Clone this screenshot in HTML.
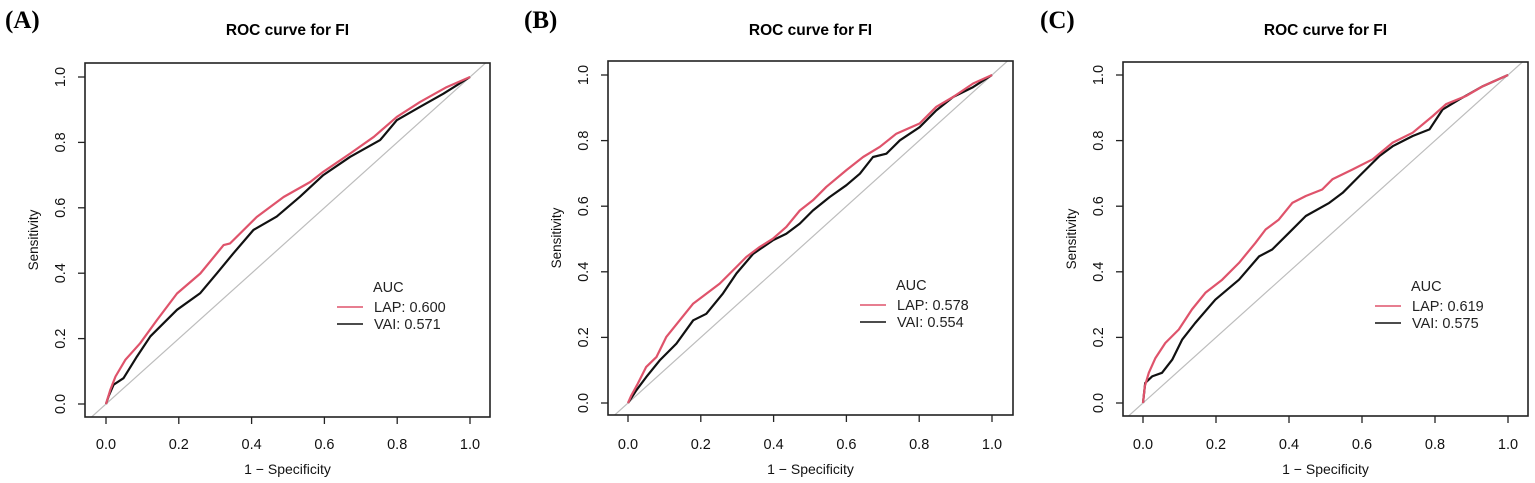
<!DOCTYPE html>
<html><head><meta charset="utf-8"><style>
body{margin:0;background:#fff;}
svg{display:block;font-family:"Liberation Sans",Arial,sans-serif;}
</style></head><body>
<svg id="chart" width="1535" height="483" viewBox="0 0 1535 483" xmlns="http://www.w3.org/2000/svg"></svg>
<script>
const ticks = [0, 0.2, 0.4, 0.6, 0.8, 1.0];
const tickLabels = ["0.0", "0.2", "0.4", "0.6", "0.8", "1.0"];
const panelLabels = ["(A)", "(B)", "(C)"];
const aucLap = ["0.600", "0.578", "0.619"];
const aucVai = ["0.571", "0.554", "0.575"];
const lapA_fpr = [0,0.012,0.026,0.053,0.094,0.140,0.195,0.259,0.323,0.341,0.414,0.488,0.561,0.597,0.671,0.736,0.799,0.863,0.936,1];
const lapA_tpr = [0,0.044,0.084,0.135,0.186,0.257,0.338,0.399,0.486,0.491,0.572,0.633,0.679,0.710,0.766,0.817,0.878,0.924,0.969,1];
const vaiA_fpr = [0,0.007,0.021,0.048,0.085,0.122,0.195,0.259,0.305,0.350,0.405,0.469,0.533,0.597,0.671,0.753,0.799,0.863,0.927,1];
const vaiA_tpr = [0,0.023,0.059,0.079,0.145,0.207,0.288,0.339,0.400,0.461,0.532,0.573,0.634,0.700,0.756,0.807,0.868,0.909,0.949,1];
const lapB_fpr = [0,0.009,0.027,0.050,0.078,0.105,0.142,0.179,0.215,0.252,0.298,0.325,0.362,0.398,0.435,0.472,0.508,0.545,0.600,0.646,0.692,0.737,0.801,0.847,0.893,0.948,1];
const lapB_tpr = [0,0.023,0.059,0.110,0.140,0.201,0.252,0.303,0.333,0.364,0.415,0.445,0.476,0.501,0.537,0.587,0.618,0.659,0.710,0.750,0.781,0.821,0.852,0.903,0.933,0.974,1];
const vaiB_fpr = [0,0.023,0.050,0.087,0.133,0.179,0.215,0.261,0.298,0.344,0.398,0.435,0.472,0.508,0.554,0.600,0.637,0.673,0.710,0.747,0.801,0.847,0.893,0.948,1];
const vaiB_tpr = [0,0.039,0.079,0.130,0.181,0.252,0.272,0.334,0.395,0.455,0.496,0.516,0.547,0.587,0.628,0.664,0.699,0.750,0.760,0.801,0.841,0.892,0.933,0.963,1];
const lapC_fpr = [0,0.005,0.016,0.034,0.061,0.098,0.134,0.171,0.217,0.263,0.308,0.336,0.372,0.409,0.446,0.491,0.519,0.574,0.629,0.684,0.739,0.794,0.830,0.885,0.931,1];
const lapC_tpr = [0,0.051,0.092,0.137,0.183,0.224,0.285,0.336,0.376,0.427,0.488,0.529,0.559,0.610,0.631,0.651,0.682,0.712,0.743,0.794,0.824,0.875,0.911,0.936,0.966,1];
const vaiC_fpr = [0,0.006,0.025,0.052,0.080,0.107,0.143,0.198,0.263,0.318,0.354,0.400,0.446,0.510,0.547,0.593,0.648,0.684,0.739,0.785,0.821,0.867,0.931,1];
const vaiC_tpr = [0,0.061,0.081,0.092,0.132,0.193,0.244,0.315,0.376,0.447,0.468,0.519,0.570,0.610,0.641,0.692,0.753,0.783,0.814,0.834,0.895,0.926,0.966,1];

const panels = [
 {bx0:85,by0:63,bx1:490,by1:417,x0:106,x1:470,y0:404,y1:77,lab:5,lap:[lapA_fpr,lapA_tpr],vai:[vaiA_fpr,vaiA_tpr]},
 {bx0:608,by0:61,bx1:1013,by1:415,x0:628,x1:992,y0:403,y1:75,lab:524,lap:[lapB_fpr,lapB_tpr],vai:[vaiB_fpr,vaiB_tpr]},
 {bx0:1123,by0:62,bx1:1528,by1:416,x0:1143,x1:1508,y0:403,y1:75,lab:1040,lap:[lapC_fpr,lapC_tpr],vai:[vaiC_fpr,vaiC_tpr]}
];
const NS="http://www.w3.org/2000/svg";
const svg=document.getElementById('chart');
function mk(tag,attrs,parent,text){const e=document.createElementNS(NS,tag);for(const k in attrs)e.setAttribute(k,attrs[k]);if(text!==undefined)e.textContent=text;(parent||svg).appendChild(e);return e;}
panels.forEach((p,i)=>{
 const g=mk('g',{});
 
 
 const sx=v=>p.x0+v*(p.x1-p.x0);
 const sy=v=>p.y0-v*(p.y0-p.y1);
 const pl=mk('text',{x:p.lab,y:28,'font-family':'Liberation Serif, serif','font-weight':'bold','font-size':25,fill:'#000'},g,panelLabels[i]);
 
 
 const cx=(p.bx0+p.bx1)/2;
 const t=mk('text',{x:cx,y:35,'text-anchor':'middle','font-weight':'bold','font-size':15.5,fill:'#000'},g,'ROC curve for FI');
 
 
 const cp=mk('clipPath',{id:'clip'+i},g);
 mk('rect',{x:p.bx0,y:p.by0,width:p.bx1-p.bx0,height:p.by1-p.by0},cp);
 const dx0=(p.bx0-p.x0)/(p.x1-p.x0), dx1=(p.bx1-p.x0)/(p.x1-p.x0);
 const d=mk('line',{x1:sx(dx0),y1:sy(dx0),x2:sx(dx1),y2:sy(dx1),stroke:'#bdbdbd','stroke-width':1.2,'clip-path':'url(#clip'+i+')'},g);
 
 
 const path=(arr)=>arr[0].map((v,k)=>(k?'L':'M')+sx(v).toFixed(1)+','+sy(arr[1][k]).toFixed(1)).join(' ');
 const v=mk('path',{d:path(p.vai),fill:'none',stroke:'#111','stroke-width':2.2,'stroke-linejoin':'round'},g);
 
 
 const l=mk('path',{d:path(p.lap),fill:'none',stroke:'#df536b','stroke-width':2.2,'stroke-linejoin':'round'},g);
 
 
 const box=mk('rect',{x:p.bx0,y:p.by0,width:p.bx1-p.bx0,height:p.by1-p.by0,fill:'none',stroke:'#222','stroke-width':1.6},g);
 
 
 ticks.forEach((tv,k)=>{
  mk('line',{x1:sx(tv),y1:p.by1,x2:sx(tv),y2:p.by1+7,stroke:'#222','stroke-width':1.3},g);
  const xl=mk('text',{x:sx(tv),y:449,'text-anchor':'middle','font-size':14.5,fill:'#111'},g,tickLabels[k]);
  
  
  mk('line',{x1:p.bx0,y1:sy(tv),x2:p.bx0-7,y2:sy(tv),stroke:'#222','stroke-width':1.3},g);
  const yl=mk('text',{x:p.bx0-20,y:sy(tv),'text-anchor':'middle','font-size':14.5,fill:'#111',transform:'rotate(-90 '+(p.bx0-20)+' '+sy(tv)+')'},g,tickLabels[k]);
  
  
 });
 const xt=mk('text',{x:cx,y:474,'text-anchor':'middle','font-size':14,fill:'#111'},g,'1 − Specificity');
 
 
 const ymid=(p.by0+p.by1)/2, yx=p.bx0-47;
 const yt=mk('text',{x:yx,y:ymid,'text-anchor':'middle','font-size':13.5,fill:'#111',transform:'rotate(-90 '+yx+' '+ymid+')'},g,'Sensitivity');
 
 
 const lg=mk('g',{},g);
 
 
 const bx=p.bx0;
 mk('text',{x:bx+288,y:p.by0+229,'font-size':14.5,fill:'#222'},lg,'AUC');
 mk('line',{x1:bx+252,y1:p.by0+244,x2:bx+278,y2:p.by0+244,stroke:'#df536b','stroke-width':1.5},lg);
 mk('text',{x:bx+289,y:p.by0+249,'font-size':14.5,fill:'#222'},lg,'LAP: '+aucLap[i]);
 mk('line',{x1:bx+252,y1:p.by0+261,x2:bx+278,y2:p.by0+261,stroke:'#111','stroke-width':1.5},lg);
 mk('text',{x:bx+289,y:p.by0+266,'font-size':14.5,fill:'#222'},lg,'VAI: '+aucVai[i]);
});
</script>
</body></html>
